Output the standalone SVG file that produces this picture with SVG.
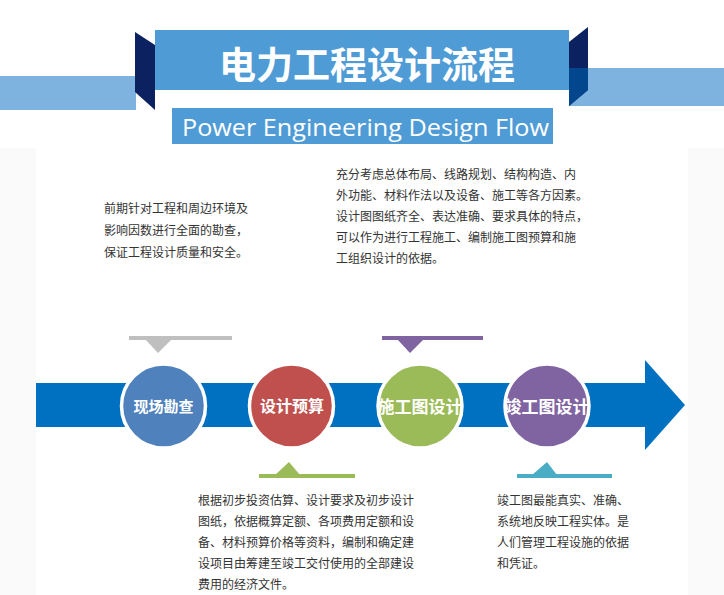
<svg xmlns="http://www.w3.org/2000/svg" width="724" height="595" viewBox="0 0 724 595">
<style>
.body{font-family:"Noto Sans CJK SC","Noto Sans",sans-serif;font-size:12px;fill:#333333}
.lbl{font-family:"Noto Sans CJK SC","Noto Sans",sans-serif;font-weight:bold;fill:#ffffff;text-anchor:middle}
.circ{stroke:#ffffff;stroke-width:3.5}
</style>
<rect width="724" height="595" fill="#ffffff"/>
<rect x="0" y="148" width="36" height="447" fill="#fafafa"/>
<rect x="688" y="148" width="36" height="447" fill="#fafafa"/>

<g id="header">
  <rect x="0" y="76" width="136" height="34" fill="#7eb3df"/>
  <rect x="569" y="68" width="155" height="38" fill="#7eb3df"/>
  <rect x="155" y="30" width="414" height="60" fill="#4f9bd5"/>
  <polygon points="135,32 155,45 155,110 135,92" fill="#0c2160"/>
  <polygon points="569,42 588,27 588,90 569,106" fill="#0c2160"/>
  <polygon points="569,68 588,68 588,90 569,106" fill="#02468e"/>
  <text x="367" y="79" text-anchor="middle" font-family="Noto Sans CJK SC, sans-serif" font-weight="bold" font-size="37" fill="#ffffff">电力工程设计流程</text>
  <rect x="172" y="108" width="381" height="36" fill="#4f9bd5"/>
  <text x="182" y="136" font-family="Open Sans, sans-serif" font-size="24" fill="#ffffff" textLength="367" lengthAdjust="spacingAndGlyphs">Power Engineering Design Flow</text>
</g>

<g id="desc-survey">
  <text class="body" x="104" y="213">前期针对工程和周边环境及</text>
  <text class="body" x="104" y="235">影响因数进行全面的勘查，</text>
  <text class="body" x="104" y="257">保证工程设计质量和安全。</text>
</g>
<g id="desc-construction">
  <text class="body" x="336" y="179">充分考虑总体布局、线路规划、结构构造、内</text>
  <text class="body" x="336" y="200">外功能、材料作法以及设备、施工等各方因素。</text>
  <text class="body" x="336" y="221">设计图图纸齐全、表达准确、要求具体的特点，</text>
  <text class="body" x="336" y="242">可以作为进行工程施工、编制施工图预算和施</text>
  <text class="body" x="336" y="263">工组织设计的依据。</text>
</g>
<g id="desc-budget">
  <text class="body" x="198" y="505">根据初步投资估算、设计要求及初步设计</text>
  <text class="body" x="198" y="526">图纸，依据概算定额、各项费用定额和设</text>
  <text class="body" x="198" y="547">备、材料预算价格等资料，编制和确定建</text>
  <text class="body" x="198" y="568">设项目由筹建至竣工交付使用的全部建设</text>
  <text class="body" x="198" y="589">费用的经济文件。</text>
</g>
<g id="desc-asbuilt">
  <text class="body" x="497" y="505">竣工图最能真实、准确、</text>
  <text class="body" x="497" y="526">系统地反映工程实体。是</text>
  <text class="body" x="497" y="547">人们管理工程设施的依据</text>
  <text class="body" x="497" y="568">和凭证。</text>
</g>

<g id="connectors">
  <polygon points="36,383 645,383 645,360 685,405 645,450 645,427 36,427" fill="#0070c0"/>
  <rect x="129" y="336" width="103" height="4" fill="#bfbfbf"/>
  <polygon points="145,339 172,339 158,353" fill="#bfbfbf"/>
  <rect x="382" y="336" width="101" height="4" fill="#8064a2"/>
  <polygon points="397,339 424,339 410,353" fill="#8064a2"/>
  <rect x="259" y="474" width="96" height="4" fill="#9bbb59"/>
  <polygon points="275,475 300,475 289,462" fill="#9bbb59"/>
  <rect x="517" y="474" width="95" height="4" fill="#4bacc6"/>
  <polygon points="532,475 557,475 547,462" fill="#4bacc6"/>
</g>

<g id="node-survey">
  <circle class="circ" cx="163.5" cy="406" r="42" fill="#4f81bd"/>
  <text class="lbl" x="163.5" y="412" font-size="15">现场勘查</text>
</g>
<g id="node-budget">
  <circle class="circ" cx="291.5" cy="406" r="42" fill="#c0504d"/>
  <text class="lbl" x="292" y="412" font-size="16">设计预算</text>
</g>
<g id="node-construction">
  <circle class="circ" cx="420" cy="406" r="42" fill="#9bbb59"/>
  <text class="lbl" x="420" y="413" font-size="17">施工图设计</text>
</g>
<g id="node-asbuilt">
  <circle class="circ" cx="547" cy="406" r="42" fill="#8064a2"/>
  <text class="lbl" x="547" y="413" font-size="17">竣工图设计</text>
</g>
</svg>
